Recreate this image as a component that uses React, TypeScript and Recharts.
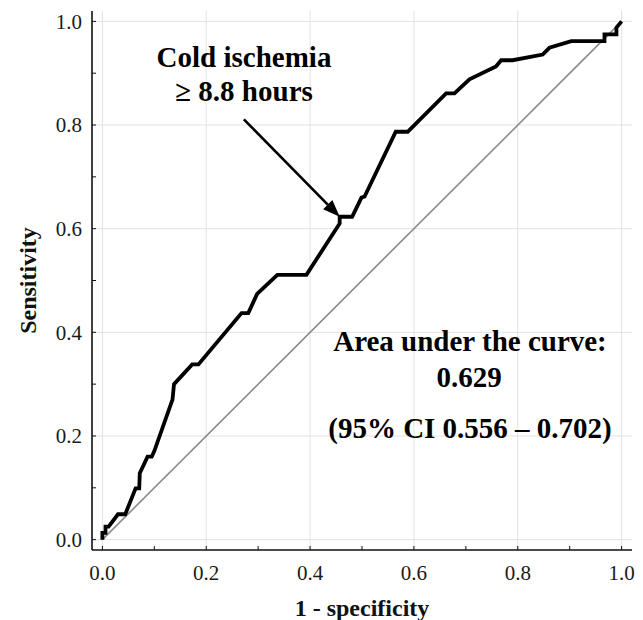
import { LineChart, Line, XAxis, YAxis, ReferenceLine } from 'recharts'

// ROC curve (1 - specificity, sensitivity)
const rocFpr = [
  0, 0, 0.006, 0.006, 0.012, 0.03, 0.044, 0.064, 0.071, 0.072, 0.087, 0.095, 0.1, 0.135,
  0.138, 0.173, 0.185, 0.268, 0.281, 0.298, 0.337, 0.393, 0.457, 0.457, 0.481, 0.499,
  0.505, 0.565, 0.588, 0.662, 0.678, 0.707, 0.758, 0.768, 0.79, 0.848, 0.861, 0.903,
  0.967, 0.967, 0.99, 0.99, 1.0,
]
const rocTpr = [
  0, 0.013, 0.013, 0.025, 0.025, 0.049, 0.049, 0.099, 0.099, 0.128, 0.16, 0.16, 0.171, 0.27,
  0.3, 0.338, 0.338, 0.437, 0.437, 0.474, 0.511, 0.511, 0.61, 0.623, 0.623, 0.66,
  0.662, 0.787, 0.787, 0.861, 0.861, 0.888, 0.913, 0.925, 0.925, 0.936, 0.949, 0.962,
  0.962, 0.975, 0.975, 0.988, 1.0,
]
const diagFpr = [0, 1]
const diagTpr = [0, 1]

const axisTicks = [0, 0.1, 0.2, 0.3, 0.4, 0.5, 0.6, 0.7, 0.8, 0.9, 1.0]
const gridTicks = [0, 0.2, 0.4, 0.6, 0.8, 1.0]
const labelledTicks = ['0.0', '0.2', '0.4', '0.6', '0.8', '1.0']

const roc = rocFpr.map((x, i) => ({ x, y: rocTpr[i] }))
const diag = diagFpr.map((x, i) => ({ x, y: diagTpr[i] }))

// annotation arrow, in data units
const arrowFrom = { x: 0.2725, y: 0.811 }
const arrowTo = { x: 0.457, y: 0.623 }

const serif = '"Liberation Serif", "Times New Roman", serif'
const domain: [number, number] = [-0.02, 1.02]

const fmtTick = (v: number) => {
  const s = v.toFixed(1)
  return labelledTicks.includes(s) ? s : ''
}

const Arrow = (props: any) => {
  const { x1, y1, x2, y2 } = props
  const ang = Math.atan2(y2 - y1, x2 - x1)
  const len = 17
  const half = 6.5
  const bx = x2 - len * Math.cos(ang)
  const by = y2 - len * Math.sin(ang)
  const px = -Math.sin(ang) * half
  const py = Math.cos(ang) * half
  return (
    <g>
      <line x1={x1} y1={y1} x2={bx} y2={by} stroke="#000" strokeWidth={2.6} />
      <polygon points={`${x2},${y2} ${bx + px},${by + py} ${bx - px},${by - py}`} fill="#000" />
    </g>
  )
}

const annot = { fontFamily: serif, fontWeight: 700, fontSize: 29, fill: '#000' } as const

export default function App() {
  return (
    <div style={{ position: 'absolute', left: 0, top: 0, width: 643, height: 620, background: '#fff' }}>
      <LineChart width={643} height={620} margin={{ top: 11, right: 11, bottom: 0, left: 0 }}>
        {gridTicks.map((t) => (
          <ReferenceLine key={'gx' + t} xAxisId="bottom" yAxisId="left" x={t} stroke="#e2e2e2" strokeWidth={1} />
        ))}
        {gridTicks.map((t) => (
          <ReferenceLine key={'gy' + t} xAxisId="bottom" yAxisId="left" y={t} stroke="#e2e2e2" strokeWidth={1} />
        ))}
        <XAxis
          xAxisId="bottom"
          type="number"
          dataKey="x"
          domain={domain}
          allowDataOverflow
          ticks={axisTicks}
          interval={0}
          tickFormatter={fmtTick}
          height={70}
          tickSize={-4}
          tickMargin={19.5}
          axisLine={{ stroke: '#111', strokeWidth: 1.6 }}
          tickLine={{ stroke: '#111', strokeWidth: 1 }}
          tick={{ fill: '#1a1a1a', fontSize: 21, fontFamily: serif }}
          label={{
            value: '1 - specificity',
            position: 'insideBottom',
            offset: 4,
            style: { fontFamily: serif, fontWeight: 700, fontSize: 24, fill: '#111' },
          }}
        />
        <XAxis
          xAxisId="top"
          orientation="top"
          type="number"
          dataKey="x"
          domain={domain}
          allowDataOverflow
          ticks={axisTicks}
          interval={0}
          height={0}
          tickSize={-4}
          tick={false}
          axisLine={{ stroke: '#666', strokeWidth: 2 }}
          tickLine={{ stroke: '#666', strokeWidth: 1 }}
        />
        <YAxis
          yAxisId="left"
          type="number"
          domain={domain}
          allowDataOverflow
          ticks={axisTicks}
          interval={0}
          tickFormatter={fmtTick}
          width={92}
          tickSize={-4}
          tickMargin={14}
          axisLine={{ stroke: '#111', strokeWidth: 1.6 }}
          tickLine={{ stroke: '#111', strokeWidth: 1 }}
          tick={{ fill: '#1a1a1a', fontSize: 21, fontFamily: serif }}
          label={{
            value: 'Sensitivity',
            angle: -90,
            position: 'insideLeft',
            offset: 27,
            style: { textAnchor: 'middle', fontFamily: serif, fontWeight: 700, fontSize: 24, fill: '#111' },
          }}
        />
        <YAxis
          yAxisId="right"
          orientation="right"
          type="number"
          domain={domain}
          allowDataOverflow
          ticks={axisTicks}
          interval={0}
          width={0}
          tickSize={-4}
          tick={false}
          axisLine={{ stroke: '#4a4a4a', strokeWidth: 3 }}
          tickLine={{ stroke: '#4a4a4a', strokeWidth: 1 }}
        />
        <Line
          xAxisId="bottom"
          yAxisId="left"
          data={diag}
          dataKey="y"
          type="linear"
          stroke="#8a8a8a"
          strokeWidth={1.6}
          dot={false}
          activeDot={false}
          isAnimationActive={false}
        />
        <Line
          xAxisId="bottom"
          yAxisId="left"
          data={roc}
          dataKey="y"
          type="linear"
          stroke="#000"
          strokeWidth={3.8}
          strokeLinejoin="miter"
          dot={false}
          activeDot={false}
          isAnimationActive={false}
        />
        <ReferenceLine
          xAxisId="bottom"
          yAxisId="left"
          segment={[arrowFrom, arrowTo]}
          ifOverflow="visible"
          shape={Arrow}
        />
      </LineChart>
      <svg
        width={643}
        height={620}
        style={{ position: 'absolute', left: 0, top: 0, pointerEvents: 'none' }}
      >
        <text x={244} y={67} textAnchor="middle" style={annot}>Cold ischemia</text>
        <text x={244} y={101} textAnchor="middle" style={annot}>≥ 8.8 hours</text>
        <text x={470} y={351} textAnchor="middle" style={annot}>Area under the curve:</text>
        <text x={469} y={387} textAnchor="middle" style={annot}>0.629</text>
        <text x={470} y={438} textAnchor="middle" style={annot}>(95% CI 0.556 – 0.702)</text>
      </svg>
    </div>
  )
}
